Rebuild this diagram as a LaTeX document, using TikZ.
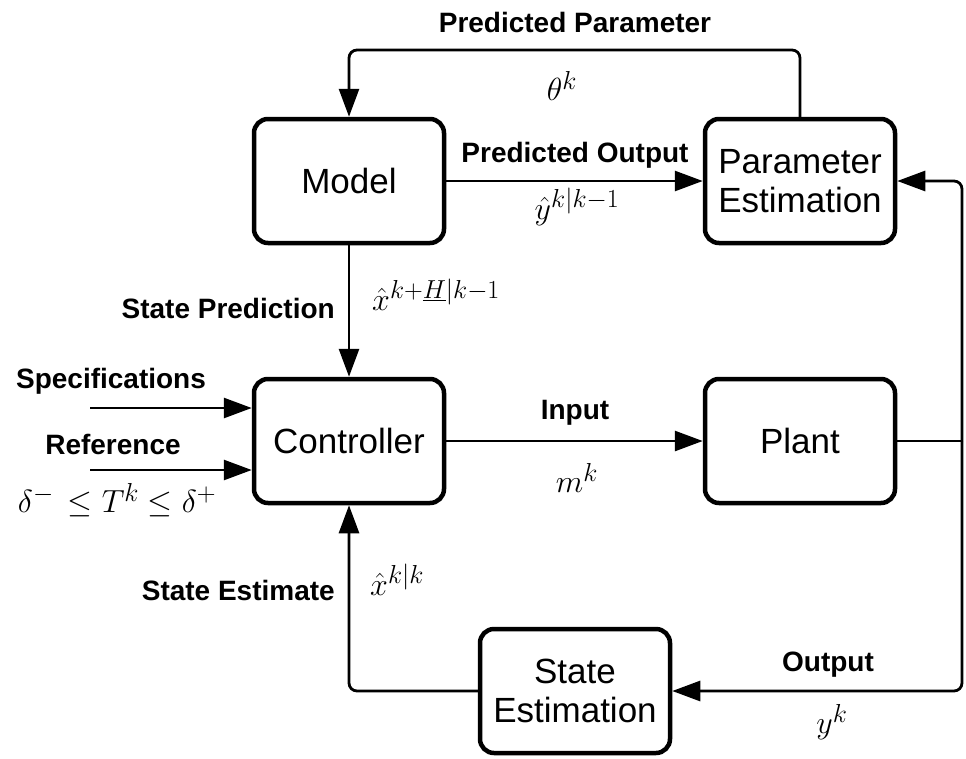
\RequirePackage{fix-cm}
\documentclass[tikz,border=0pt]{standalone}
\usepackage{fontspec}
\setmainfont{Liberation Sans}
\usetikzlibrary{arrows.meta}
\DeclareMathSizes{32}{32}{26}{20}
\begin{document}
\begin{tikzpicture}[x=1pt,y=-1pt,
  blk/.style={draw,line width=4.5pt,rounded corners=14pt,minimum width=190pt,minimum height=124pt,align=center,font=\fontsize{35}{39}\selectfont,inner sep=0pt},
  conn/.style={line width=2.8pt,rounded corners=8pt},
  arr/.style={conn,-{Triangle[length=28pt,width=20pt]}},
  lbl/.style={font=\fontsize{28}{32}\selectfont\bfseries,inner sep=0pt},
  mth/.style={font=\fontsize{32}{38}\selectfont,inner sep=0pt}]
\useasboundingbox (0,0) rectangle (966,758);
\node[blk] (model) at (349,181) {Model};
\node[blk] (pest) at (800,181) {Parameter\\Estimation};
\node[blk] (ctrl) at (349,441) {Controller};
\node[blk] (plant) at (800,441) {Plant};
\node[blk] (sest) at (575,691) {State\\Estimation};
\coordinate (spec) at (90,408);
\coordinate (ref) at (90,470);
\coordinate (rj) at (962,441);
% predicted parameter
\draw[arr] (pest.north) |- (575,50) -| (model.north);
\node[lbl] (lpp) at (575,22) {Predicted Parameter};
\node[mth] (lth) at (562,86) {$\theta^k$};
% predicted output
\draw[arr] (model.east) -- (pest.west);
\node[lbl] (lpo) at (575,155) {Predicted Output};
\node[mth] (lyh) at (577,207) {$\hat{y}^{k|k-1}$};
% state prediction
\draw[arr] (model.south) -- (ctrl.north);
\node[lbl,anchor=east] (lsp) at (335,308) {State Prediction};
\node[mth,anchor=west] (lxp) at (372,295) {$\hat{x}^{k+\underline{H}|k-1}$};
% specifications, reference
\draw[arr] (spec) -- (spec -| ctrl.west);
\draw[arr] (ref) -- (ref -| ctrl.west);
\node[lbl] (lspec) at (111,381) {Specifications};
\node[lbl] (lref) at (113,444) {Reference};
\node[mth] (lcon) at (117,500) {$\delta^-\,\leq T^k\leq \delta^+$};
% input
\draw[arr] (ctrl.east) -- (plant.west);
\node[lbl] (lin) at (575,413) {Input};
\node[mth] (lmk) at (577,478) {$m^k$};
% plant outputs
\draw[conn] (plant.east) -- (rj);
\draw[arr] (rj) |- (pest.east);
\draw[arr] (rj) |- (sest.east);
\node[lbl] (lout) at (828,665) {Output};
\node[mth] (lyk) at (832,722) {$y^k$};
% state estimate
\draw[arr] (sest.west) -| (ctrl.south);
\node[lbl,anchor=east] (lse) at (335,590) {State Estimate};
\node[mth,anchor=west] (lxe) at (370,580) {$\hat{x}^{k|k}$};
\end{tikzpicture}
\end{document}
